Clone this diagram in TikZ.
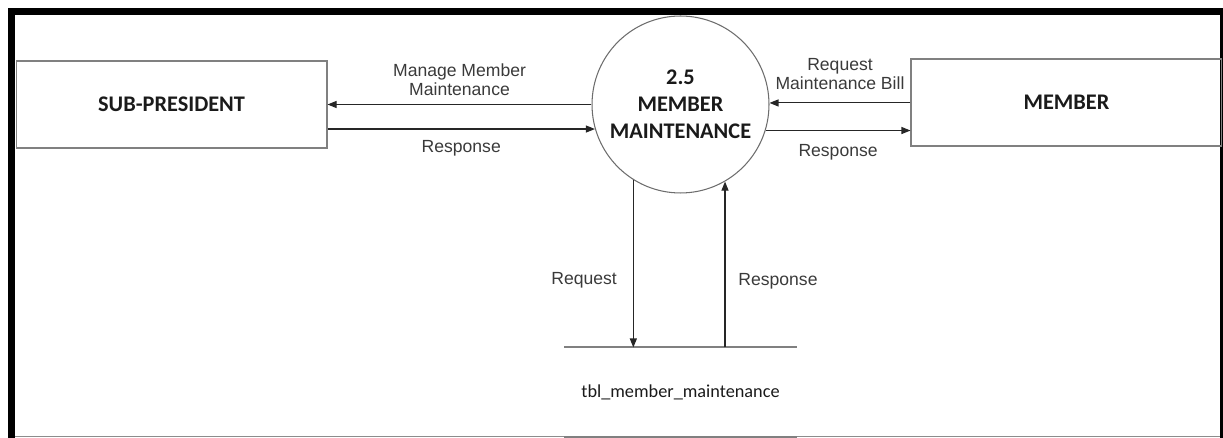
\documentclass[tikz,border=0pt]{standalone}
\usepackage{fontspec}
\setmainfont{Liberation Sans}
\newfontfamily\calibri{Carlito}
\usetikzlibrary{positioning,arrows.meta}
\definecolor{linegray}{HTML}{262626}
\definecolor{boxgray}{HTML}{808080}
\definecolor{labelgray}{HTML}{3A3A3A}
\definecolor{titleblack}{HTML}{1A1A1A}
\definecolor{framegray}{HTML}{8C8C8C}

\begin{document}
\begin{tikzpicture}[
    x=0.02cm, y=-0.02cm,
    node distance=1cm,
    every node/.style={font=\fontsize{10}{10.5}\selectfont, text=labelgray, align=center},
    entity/.style={draw=boxgray, line width=0.6pt, minimum width=6.22cm, minimum height=1.74cm, font=\calibri\bfseries\fontsize{12.7}{15.4}\selectfont, text=titleblack},
    process/.style={draw=boxgray!85!black, line width=0.6pt, circle, minimum size=3.54cm, inner sep=0pt, font=\calibri\bfseries\fontsize{12.7}{15.4}\selectfont, text=titleblack},
    datastore/.style={minimum width=4.64cm, minimum height=1.78cm, font=\calibri\fontsize{10.4}{12}\selectfont, text=titleblack},
    flow/.style={draw=linegray, line width=0.6pt, -{Triangle[length=0.18cm,width=0.14cm]}}
]
\useasboundingbox (0,0) rectangle (1223,438);

% 边框
\draw[line width=0.15cm] (11.5,438) -- (11.5,11.5) -- (1224,11.5) -- (1224,438);
\draw[framegray, line width=0.03cm] (15,436.5) -- (1220,436.5);

% 节点
\node[process] (proc) at (680.5,104.5) {2.5\\MEMBER\\MAINTENANCE};
\node[entity, left=5.28cm of proc] (sub) {SUB-PRESIDENT};
\node[entity, right=2.82cm of proc, yshift=0.04cm] (member) {MEMBER};
\node[datastore, below=3.08cm of proc] (tbl) {tbl\_member\_maintenance};

% 数据存储的两条线
\draw[boxgray, line width=0.04cm] (tbl.north west) -- (tbl.north east);
\draw[boxgray, line width=0.04cm] (tbl.south west) -- (tbl.south east);

% 左侧连接线
\draw[flow] (proc.180) -- (proc.180 -| sub.east) node[midway, above=1.5pt] {Manage Member\\Maintenance};
\draw[flow] (sub.east |- proc.196) -- (proc.196) node[midway, below=3pt] {Response};

% 右侧连接线
\draw[flow] (member.west |- proc.1) -- (proc.1) node[midway, above=4pt] {Request\\Maintenance Bill};
\draw[flow] (proc.343) -- (proc.343 -| member.west) node[midway, below=4.5pt] {Response};

% 下方连接线
\draw[flow] (proc.238) -- (proc.238 |- tbl.north) node[pos=0.6, left=5.8pt] {Request};
\draw[flow] (tbl.north -| proc.300) -- (proc.300) node[pos=0.4, right=4pt] {Response};

\end{tikzpicture}
\end{document}
